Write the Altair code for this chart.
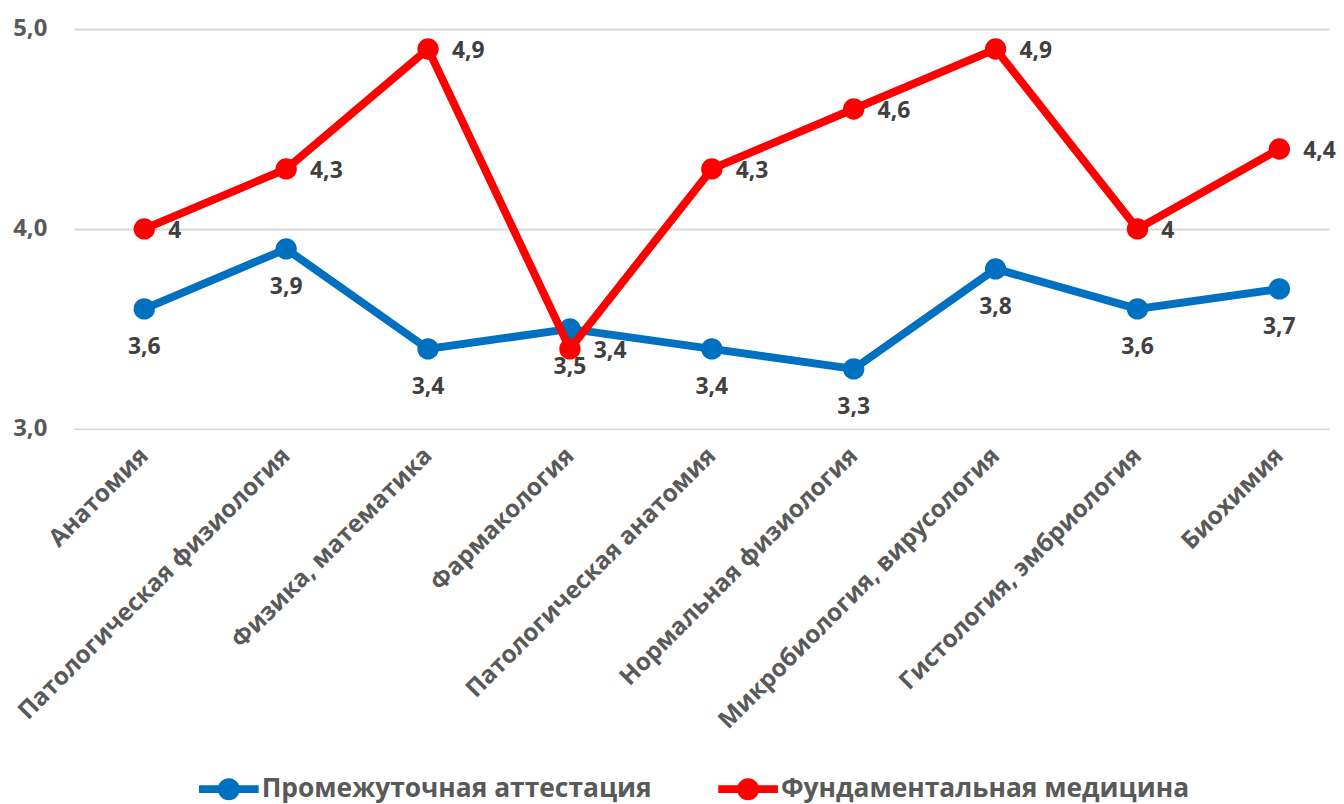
import altair as alt
import pandas as pd

categories = ["Анатомия", "Патологическая физиология", "Физика, математика", "Фармакология",
              "Патологическая анатомия", "Нормальная физиология", "Микробиология, вирусология",
              "Гистология, эмбриология", "Биохимия"]
series_names = ["Промежуточная аттестация", "Фундаментальная медицина"]
blue_values = [3.6, 3.9, 3.4, 3.5, 3.4, 3.3, 3.8, 3.6, 3.7]
red_values = [4.0, 4.3, 4.9, 3.4, 4.3, 4.6, 4.9, 4.0, 4.4]
colors = ["#0070C0", "#FF0000"]
y_ticks = [3, 4, 5]


def fmt(v):
    if float(v).is_integer():
        return str(int(v))
    return f"{v:.1f}".replace(".", ",")


rows = []
for name, vals in zip(series_names, [blue_values, red_values]):
    for c, v in zip(categories, vals):
        rows.append({"series": name, "category": c, "value": v, "label": fmt(v)})
df = pd.DataFrame(rows)

FONT = "Open Sans"
GREY = "#595959"

legend_path = ("M-1,-0.13 L1,-0.13 L1,0.13 L-1,0.13 Z "
               "M-0.37,0 A0.37,0.37 0 1,1 0.37,0 A0.37,0.37 0 1,1 -0.37,0 Z")

color = alt.Color(
    "series:N",
    scale=alt.Scale(domain=series_names, range=colors),
    legend=alt.Legend(
        title=None, orient="none", legendX=126, legendY=734, direction="horizontal",
        symbolType=legend_path, symbolSize=3600, symbolStrokeWidth=0,
        labelFont=FONT, labelFontSize=26.5, labelFontWeight="bold", labelColor=GREY,
        columnPadding=66, labelOffset=3, labelLimit=0,
    ),
)

x = alt.X("category:N", sort=categories,
          scale=alt.Scale(domain=categories, padding=0.424, align=0.587),
          axis=alt.Axis(title=None, labelAngle=-45, labelAlign="right", labelBaseline="middle",
                        labelPadding=23, labelFont=FONT, labelFontSize=24.5, labelFontWeight="bold",
                        labelColor=GREY, labelLimit=0, ticks=False, domain=False, grid=False))
y = alt.Y("value:Q", scale=alt.Scale(domain=[3, 5], nice=False, zero=False),
          axis=alt.Axis(title=None, values=y_ticks,
                        labelExpr="replace(format(datum.value, '.1f'), '.', ',')",
                        labelPadding=27, labelFont=FONT, labelFontSize=24, labelFontWeight="bold",
                        labelColor=GREY, ticks=False, domain=False, gridColor="#D9D9D9",
                        gridWidth=2))

base = alt.Chart(df).encode(x=x, y=y, color=color)

layers = []
for name in series_names:
    sub = base.transform_filter(alt.datum.series == name)
    layers.append(sub.mark_line(strokeWidth=8))
    layers.append(sub.mark_point(filled=True, size=460, opacity=1))

text_common = dict(font=FONT, fontSize=23, fontWeight="bold", color="#404040", baseline="middle")
blue_text = alt.Chart(df).transform_filter(alt.datum.series == series_names[0]).mark_text(
    align="center", dy=38, **text_common).encode(x=x, y=y, text="label:N")
red_text = alt.Chart(df).transform_filter(alt.datum.series == series_names[1]).mark_text(
    align="left", dx=24, dy=2, **text_common).encode(x=x, y=y, text="label:N")

chart = alt.layer(*layers, blue_text, red_text).properties(
    width=1262, height=402,
    padding={"left": 4, "top": 7, "right": 0, "bottom": 0},
).configure_view(stroke=None)

chart.save("out.html", embed_options={"renderer": "svg", "actions": False})
